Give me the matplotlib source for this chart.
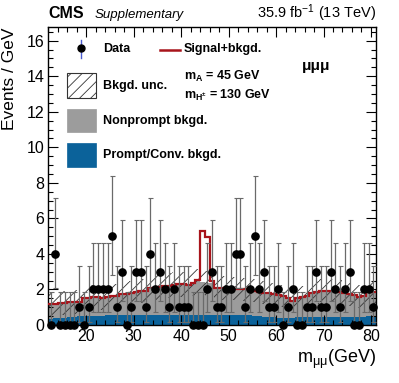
import numpy as np
import matplotlib
matplotlib.use("Agg")
import matplotlib.pyplot as plt
from matplotlib.patches import Rectangle
from matplotlib.lines import Line2D

plt.rcParams['font.family'] = ['Liberation Sans', 'DejaVu Sans']
plt.rcParams['mathtext.fontset'] = 'custom'
plt.rcParams['mathtext.rm'] = 'Liberation Sans'
plt.rcParams['mathtext.it'] = 'Liberation Sans:italic'
plt.rcParams['mathtext.bf'] = 'Liberation Sans:bold'
plt.rcParams['mathtext.default'] = 'regular'
plt.rcParams['hatch.linewidth'] = 0.6

# ---------------- data ----------------
bin_edges = np.arange(12, 82)  # 1 GeV bins, 12..81

data_counts = [0, 4, 0, 0, 0, 0, 1, 0, 1, 2,
               2, 2, 2, 5, 1, 3, 0, 1, 3, 3,
               1, 4, 2, 3, 2, 1, 2, 1, 1, 1,
               0, 0, 0, 2, 3, 1, 1, 2, 2, 4,
               4, 1, 2, 5, 2, 3, 1, 1, 2, 0,
               1, 2, 0, 0, 1, 1, 3, 1, 1, 3,
               2, 1, 2, 3, 0, 0, 2, 2, 1]

prompt_bkg = [0.36, 0.38, 0.40, 0.42, 0.44, 0.46, 0.48, 0.50, 0.50, 0.52,
              0.52, 0.53, 0.54, 0.55, 0.55, 0.56, 0.56, 0.57, 0.57, 0.57,
              0.57, 0.57, 0.56, 0.56, 0.55, 0.55, 0.55, 0.56, 0.57, 0.58,
              0.58, 0.58, 0.58, 0.58, 0.58, 0.58, 0.58, 0.58, 0.58, 0.57,
              0.57, 0.56, 0.55, 0.53, 0.50, 0.47, 0.45, 0.43, 0.42, 0.42,
              0.42, 0.42, 0.43, 0.45, 0.46, 0.47, 0.47, 0.47, 0.47, 0.47,
              0.47, 0.47, 0.47, 0.47, 0.47, 0.47, 0.47, 0.48, 0.48]

total_bkg = [1.17, 1.20, 1.25, 1.26, 1.28, 1.30, 1.32, 1.50, 1.50, 1.60,
             1.60, 1.50, 1.60, 1.66, 1.66, 1.75, 1.75, 1.80, 1.85, 1.90,
             1.92, 2.07, 2.10, 2.12, 2.17, 2.20, 2.26, 2.30, 2.30, 2.26,
             2.35, 2.45, 2.40, 2.35, 2.35, 2.10, 2.10, 2.10, 2.10, 2.05,
             2.05, 2.00, 1.98, 1.93, 1.88, 1.82, 1.79, 1.72, 1.69, 1.62,
             1.50, 1.36, 1.50, 1.55, 1.64, 1.79, 1.85, 1.92, 1.92, 1.92,
             1.90, 1.88, 1.79, 1.72, 1.69, 1.60, 1.66, 1.85, 1.85]

bkg_unc = [0.68, 0.68, 0.67, 0.67, 0.66, 0.66, 0.66, 0.66, 0.66, 0.66,
           0.66, 0.66, 0.66, 0.66, 0.66, 0.67, 0.67, 0.67, 0.68, 0.68,
           0.68, 0.69, 0.69, 0.69, 0.70, 0.70, 0.70, 0.70, 0.70, 0.70,
           0.70, 0.70, 0.70, 0.70, 0.70, 0.68, 0.68, 0.68, 0.68, 0.67,
           0.67, 0.67, 0.66, 0.66, 0.65, 0.65, 0.64, 0.64, 0.63, 0.63,
           0.62, 0.62, 0.62, 0.62, 0.63, 0.64, 0.64, 0.65, 0.65, 0.65,
           0.65, 0.65, 0.64, 0.64, 0.63, 0.63, 0.63, 0.64, 0.64]

signal = [0.0] * 31 + [0.10, 2.90, 2.60, 0.10] + [0.0] * 34

# Garwood 68% intervals for small counts
poisson_lo = {0: 0.0, 1: 0.173, 2: 0.708, 3: 1.367, 4: 2.086, 5: 2.840}
poisson_hi = {0: 1.841, 1: 3.300, 2: 4.638, 3: 5.918, 4: 7.163, 5: 8.382}

# ---------------- figure ----------------
W, H = 399, 383
fig = plt.figure(figsize=(W / 100, H / 100), dpi=100)
ax_l, ax_r, ax_t, ax_b = 48.3, 375.7, 26.5, 325.0
ax = fig.add_axes([ax_l / W, (H - ax_b) / H, (ax_r - ax_l) / W, (ax_b - ax_t) / H])

edges = np.asarray(bin_edges, dtype=float)
centers = 0.5 * (edges[:-1] + edges[1:])
prompt = np.asarray(prompt_bkg)
total = np.asarray(total_bkg)
unc = np.asarray(bkg_unc)
sig_tot = total + np.asarray(signal)
counts = np.asarray(data_counts)

blue = '#0b629a'
gray = '#9c9c9c'
red = '#a8141b'

ax.stairs(prompt, edges, baseline=0, fill=True, color=blue, lw=0, zorder=1)
ax.stairs(total, edges, baseline=prompt, fill=True, color=gray, lw=0, zorder=1)
ax.stairs(total + unc, edges, baseline=total - unc, fill=True, facecolor='none',
          edgecolor='#333333', hatch='///', lw=0, zorder=2)
ax.stairs(sig_tot, edges, baseline=None, color=red, lw=1.6, zorder=3)

lo = np.array([poisson_lo[int(c)] for c in counts])
hi = np.array([poisson_hi[int(c)] for c in counts])
ax.errorbar(centers, counts, yerr=[counts - lo, hi - counts], fmt='none',
            ecolor='#6a6a6a', elinewidth=0.9, capsize=1.8, capthick=0.8, zorder=4,
            clip_on=False)
ax.plot(centers, counts, 'o', color='black', ms=5.2, zorder=5, clip_on=False)

ax.set_xlim(12, 81)
ax.set_ylim(0, 16.8)
ax.set_xticks([20, 30, 40, 50, 60, 70, 80])
ax.set_xticks(np.arange(12, 82, 2), minor=True)
ax.set_yticks(np.arange(0, 17, 2))
ax.set_yticks(np.arange(0, 16.9, 0.5), minor=True)
ax.tick_params(which='both', direction='in', top=True, right=True, labelsize=11.5,
               width=0.8, pad=3)
ax.tick_params(which='major', length=7)
ax.tick_params(which='minor', length=3.5)
for s in ax.spines.values():
    s.set_linewidth(1.0)

# axis titles
fig.text(10 / W, 1 - 27 / H, 'Events / GeV', rotation=90, ha='center', va='top',
         fontsize=12.5)
fig.text(ax_r / W, (H - 363) / H, r'm$_{\mu\mu}$(GeV)', ha='right', va='baseline',
         fontsize=13)

# header
fig.text(48 / W, (H - 18) / H, 'CMS', fontsize=11.5, fontweight='bold',
         ha='left', va='baseline')
fig.text(95 / W, (H - 18) / H, 'Supplementary', fontsize=9.5, fontstyle='italic',
         ha='left', va='baseline')
fig.text(ax_r / W, (H - 18) / H, r'35.9 fb$^{-1}$ (13 TeV)', fontsize=10.5,
         ha='right', va='baseline')

# legend (axes fractions from pixels)
def fx(px):
    return (px - ax_l) / (ax_r - ax_l)

def fy(py):
    return (ax_b - py) / (ax_b - ax_t)

T = ax.transAxes
ax.add_line(Line2D([fx(81), fx(81)], [fy(40), fy(58)], color='#4a5bd0', lw=1.0,
                   transform=T, zorder=6))
ax.add_line(Line2D([fx(81)], [fy(48)], marker='o', color='black', ms=5.0,
                   transform=T, zorder=7))
ax.text(fx(103), fy(49), 'Data', transform=T, fontsize=9, fontweight='bold',
        va='center', ha='left')

ax.add_patch(Rectangle((fx(67), fy(98)), fx(96) - fx(67), fy(73) - fy(98),
                       transform=T, facecolor='white', edgecolor='#333333',
                       hatch='///', lw=0.8, zorder=6))
ax.text(fx(103), fy(86), 'Bkgd. unc.', transform=T, fontsize=9, fontweight='bold',
        va='center', ha='left')

ax.add_patch(Rectangle((fx(67), fy(132)), fx(96) - fx(67), fy(109) - fy(132),
                       transform=T, facecolor=gray, edgecolor=gray, lw=0.5, zorder=6))
ax.text(fx(103), fy(121), 'Nonprompt bkgd.', transform=T, fontsize=9,
        fontweight='bold', va='center', ha='left')

ax.add_patch(Rectangle((fx(67), fy(167)), fx(96) - fx(67), fy(143) - fy(167),
                       transform=T, facecolor=blue, edgecolor=blue, lw=0.5, zorder=6))
ax.text(fx(103), fy(155), 'Prompt/Conv. bkgd.', transform=T, fontsize=9,
        fontweight='bold', va='center', ha='left')

ax.add_line(Line2D([fx(160), fx(180)], [fy(50), fy(50)], color=red, lw=1.8,
                   transform=T, zorder=6))
ax.text(fx(184), fy(49), 'Signal+bkgd.', transform=T, fontsize=9, fontweight='bold',
        va='center', ha='left')
ax.text(fx(184), fy(76), r'$\mathbf{m_{A}}$ = 45 GeV', transform=T, fontsize=9,
        fontweight='bold', va='center', ha='left')
ax.text(fx(184), fy(95), r'$\mathbf{m_{H^{\pm}}}$ = 130 GeV', transform=T,
        fontsize=9, fontweight='bold', va='center', ha='left')
ax.text(fx(316), fy(66), 'μμμ', transform=T, fontsize=11, fontweight='bold',
        va='center', ha='center')

fig.savefig('out.png', dpi=100)
